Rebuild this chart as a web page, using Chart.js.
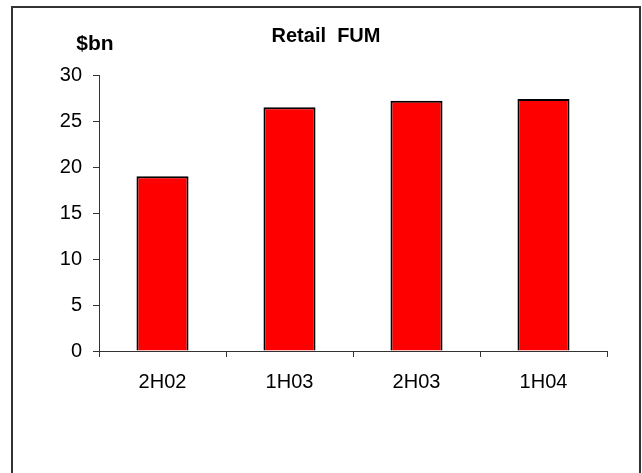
<!DOCTYPE html>
<html>
<head>
<meta charset="utf-8">
<script src="https://cdn.jsdelivr.net/npm/chart.js@4.4.1/dist/chart.umd.min.js"></script>
<style>
    html, body { margin: 0; padding: 0; background: #fff; }
    #wrap { width: 642px; height: 473px; position: relative; }
</style>
</head>
<body>
<div id="wrap"><canvas id="myChart"></canvas></div>
<script>
const categories = ['2H02', '1H03', '2H03', '1H04'];
const fumValues = [19.0, 26.5, 27.2, 27.4];
const yTicks = [0, 5, 10, 15, 20, 25, 30];

const chartTitle = 'Retail  FUM';
const unitLabel = '$bn';

const fontFamily = '"Liberation Sans", Arial, sans-serif';

// frame round the picture, the title and the unit label in the top left
const framePlugin = {
    id: 'frame',
    beforeDraw(chart) {
        const ctx = chart.ctx;
        ctx.save();
        ctx.fillStyle = '#fff';
        ctx.fillRect(0, 0, chart.width, chart.height);
        ctx.strokeStyle = '#333';
        ctx.lineWidth = 2;
        ctx.beginPath();
        ctx.moveTo(12, chart.height);
        ctx.lineTo(12, 7);
        ctx.lineTo(640, 7);
        ctx.lineTo(640, chart.height);
        ctx.stroke();
        ctx.restore();
    },
    afterDraw(chart) {
        const ctx = chart.ctx;
        ctx.save();
        ctx.fillStyle = '#000';
        ctx.textAlign = 'center';
        ctx.textBaseline = 'middle';
        ctx.font = 'bold 20px ' + fontFamily;
        ctx.fillText(chartTitle, 326, 36);
        ctx.font = 'bold 21px ' + fontFamily;
        ctx.fillText(unitLabel, 95, 44);
        ctx.restore();
    }
};

const ctx = document.getElementById('myChart').getContext('2d');

const chart = new Chart(ctx, {
    type: 'bar',
    data: {
        labels: categories,
        datasets: [{
            label: 'Retail FUM',
            data: fumValues,
            backgroundColor: '#ff0000',
            borderColor: '#000',
            borderWidth: 2,
            categoryPercentage: 1,
            barPercentage: 0.41
        }]
    },
    options: {
        responsive: true,
        maintainAspectRatio: false,
        animation: false,
        layout: {
            padding: { left: 9, right: 35, top: 75, bottom: 0 }
        },
        plugins: {
            legend: { display: false },
            tooltip: { enabled: false },
            title: { display: false }
        },
        scales: {
            x: {
                grid: {
                    drawOnChartArea: false,
                    drawTicks: true,
                    tickLength: 6,
                    color: '#333',
                    offset: true
                },
                border: { display: true, color: '#333', width: 1 },
                ticks: {
                    color: '#000',
                    padding: 13,
                    maxRotation: 0,
                    font: { family: fontFamily, size: 20 }
                },
                afterFit(scale) { scale.height = 122; }
            },
            y: {
                min: 0,
                max: 30,
                afterBuildTicks(scale) {
                    scale.ticks = yTicks.map(v => ({ value: v }));
                },
                grid: {
                    drawOnChartArea: false,
                    drawTicks: true,
                    tickLength: 6,
                    color: '#333'
                },
                border: { display: true, color: '#333', width: 1 },
                ticks: {
                    color: '#000',
                    padding: 11,
                    font: { family: fontFamily, size: 20 }
                },
                afterFit(scale) { scale.width = 90; }
            }
        }
    },
    plugins: [framePlugin]
});
</script>
</body>
</html>
